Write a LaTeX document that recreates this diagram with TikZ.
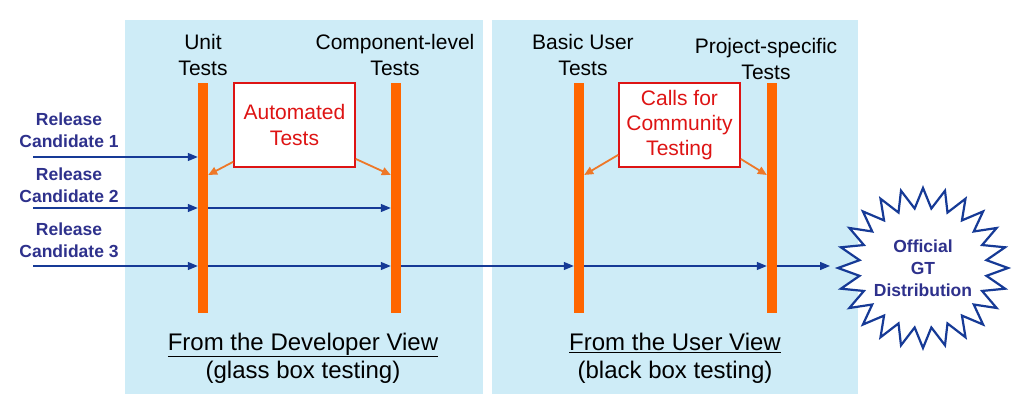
\documentclass[tikz,border=0pt]{standalone}
\usepackage{fontspec}
\setmainfont{Liberation Sans}
\usetikzlibrary{arrows.meta,positioning,calc}
\definecolor{panelblue}{RGB}{206,236,247}
\definecolor{barorange}{RGB}{255,102,0}
\definecolor{navy}{RGB}{46,49,140}
\definecolor{flowblue}{RGB}{22,58,150}
\definecolor{calloutred}{RGB}{222,20,20}
\definecolor{pointer}{RGB}{238,120,40}

\begin{document}
\begin{tikzpicture}[
  x=1pt, y=-1pt,
  font=\fontsize{21}{26}\selectfont,
  panel/.style={fill=panelblue, draw=none, minimum height=374pt, inner sep=0pt},
  bar/.style={fill=barorange, draw=none, minimum width=10pt, minimum height=230pt, inner sep=0pt},
  head/.style={align=center, inner sep=0pt},
  rclabel/.style={align=center, inner sep=0pt, text=navy, font=\fontsize{17.5}{22}\selectfont\bfseries},
  callout/.style={draw=calloutred, line width=1.5pt, fill=white, text=calloutred, align=center, minimum width=121pt, minimum height=84pt, inner sep=0pt},
  burstline/.style={draw=flowblue, line width=2.2pt, fill=white, line join=miter},
  bursttext/.style={align=center, inner sep=0pt, text=navy, font=\fontsize{17.5}{22}\selectfont\bfseries},
  flow/.style={-{Triangle[length=10pt,width=8pt]}, flowblue, line width=1.3pt},
  hint/.style={-{Triangle[length=9pt,width=8pt]}, pointer, line width=1.8pt},
  view/.style={align=center, inner sep=0pt, font=\fontsize{24}{28}\selectfont}
]
\useasboundingbox (0,0) rectangle (1013,411);

% the two views
\node[panel, minimum width=358pt] (devpanel) at (304,207) {};
\node[panel, minimum width=366pt] (userpanel) at (675,207) {};

% test stages
\node[bar] (unit) at (203,198) {};
\node[bar] (comp) at (396,198) {};
\node[bar] (basic) at (579,198) {};
\node[bar] (proj) at (772,198) {};

\node[head, above=7pt of unit] {Unit\\Tests};
\node[head, above=7pt of comp, xshift=-1pt] {Component-level\\Tests};
\node[head, above=7pt of basic, xshift=4pt] {Basic User\\Tests};
\node[head, above=3pt of proj, xshift=-6pt] {Project-specific\\Tests};

% release candidates
\node[rclabel] (rc1label) at (69,130) {Release\\Candidate 1};
\node[rclabel] (rc2label) at (69,185) {Release\\Candidate 2};
\node[rclabel] (rc3label) at (69,240) {Release\\Candidate 3};

\coordinate (rc1) at (33,157);
\coordinate (rc2) at (33,208);
\coordinate (rc3) at (33,266);

% official distribution burst
\coordinate (starc) at (923,268);
\coordinate (startip) at (838,268);
\draw[burstline, shift={(starc)}] (85,0)
  \foreach \k in {0,...,23} { -- ({85*cos(15*\k)},{80*sin(15*\k)}) -- ({64*cos(15*\k+7.5)},{60*sin(15*\k+7.5)}) } -- cycle;
\node[bursttext] (star) at (starc) {Official\\GT\\Distribution};

\draw[flow] (rc1) -- (rc1 -| unit.west);
\draw[flow] (rc2) -- (rc2 -| unit.west);
\draw[flow] (rc2 -| unit.east) -- (rc2 -| comp.west);
\draw[flow] (rc3) -- (rc3 -| unit.west);
\draw[flow] (rc3 -| unit.east) -- (rc3 -| comp.west);
\draw[flow] (rc3 -| comp.east) -- (rc3 -| basic.west);
\draw[flow] (rc3 -| basic.east) -- (rc3 -| proj.west);
\draw[flow, shorten >=8pt] (rc3 -| proj.east) -- (rc3 -| startip);

% callouts
\node[callout] (auto) at (294.5,125) {Automated\\Tests};
\node[callout, font=\fontsize{21}{25}\selectfont] (calls) at (679.5,125) {Calls for\\Community\\Testing};

\draw[hint] (auto.211) -- ($(unit.north east)!0.4!(unit.south east)$);
\draw[hint] (auto.331) -- ($(comp.north west)!0.4!(comp.south west)$);
\draw[hint] (calls.206) -- ($(basic.north east)!0.4!(basic.south east)$);
\draw[hint] (calls.331) -- ($(proj.north west)!0.4!(proj.south west)$);

% view captions
\node[view] (devview) at (303,358) {\underline{From the Developer View}\\(glass box testing)};
\node[view] (userview) at (675,358) {\underline{From the User View}\\(black box testing)};
\end{tikzpicture}
\end{document}
